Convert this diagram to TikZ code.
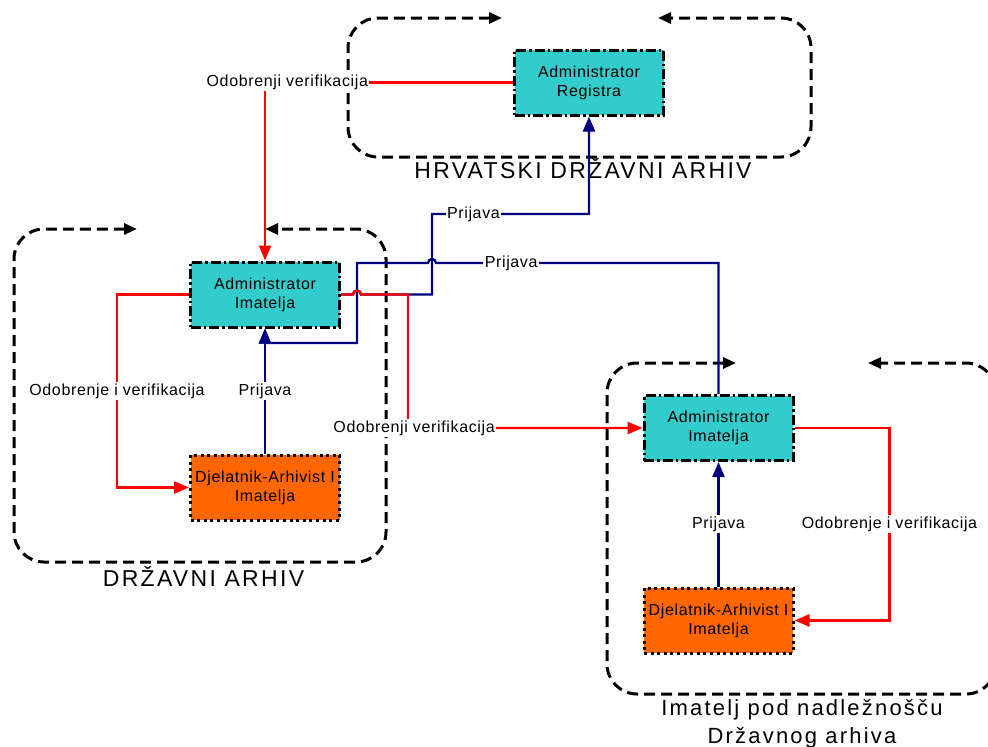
\documentclass[tikz,border=0pt]{standalone}
\usepackage{fontspec}
\setmainfont{Liberation Sans}
\usepackage{xcolor}
\usepackage{tikz}
\usetikzlibrary{arrows.meta}
\pgfdeclarelayer{nodelayer}
\pgfdeclarelayer{edgelayer}
\pgfsetlayers{main,nodelayer,edgelayer}
\definecolor{boxcyan}{HTML}{33CCCC}
\definecolor{boxorange}{HTML}{FF6600}
\definecolor{linkblue}{HTML}{000080}
\newcommand{\boxfont}{\fontsize{16}{19}\selectfont\addfontfeature{LetterSpace=4}}
\newcommand{\titlefont}{\fontsize{22}{28}\selectfont\addfontfeature{LetterSpace=10}}
\newcommand{\capsfont}{\fontsize{23}{28}\selectfont\addfontfeature{LetterSpace=10}}
\tikzset{
    none/.style = {inner sep=0pt},
    admin/.style = {draw=black, fill=boxcyan, line width=3pt, dash pattern=on 10pt off 3pt on 2.5pt off 3pt, minimum width=149pt, minimum height=65pt, align=center, font=\boxfont},
    worker/.style = {draw=black, fill=boxorange, line width=3pt, dash pattern=on 3pt off 3.6pt, minimum width=149pt, minimum height=65pt, align=center, font=\boxfont},
    tag/.style = {fill=white, inner sep=1.5pt, font=\boxfont},
    title/.style = {inner sep=0pt, align=center, font=\titlefont},
    frame/.style = {draw=black, line width=3pt, dash pattern=on 11pt off 6pt, rounded corners=30pt, arrows={Triangle[length=13pt,width=11pt]-Triangle[length=13pt,width=11pt]}},
    red arrow/.style = {draw=red, line width=2.4pt, arrows={-Triangle[length=15pt,width=12pt]}},
    blue arrow/.style = {draw=linkblue, line width=2.4pt, arrows={-Triangle[length=15pt,width=12pt]}}
}

\begin{document}
\begin{tikzpicture}[x=1pt, y=-1pt]
  \path [use as bounding box, fill=white] (0,0) rectangle (988,747);
  % frames of the three institutions
  \draw [style=frame] (502,18) -- (348,18) -- (348,157) -- (811,157) -- (811,18) -- (658,18);
  \draw [style=frame] (137,229) -- (14,229) -- (14,562) -- (386,562) -- (386,229) -- (265,229);
  \draw [style=frame] (736,363) -- (607,363) -- (607,694) -- (996,694) -- (996,363) -- (868,363);
  \begin{pgfonlayer}{nodelayer}
    \node [style=admin] (0) at (589, 82.5) {Administrator\\Registra};
    \node [style=admin] (1) at (265, 294.5) {Administrator\\Imatelja};
    \node [style=worker] (2) at (265, 487.5) {Djelatnik-Arhivist I\\Imatelja};
    \node [style=admin] (3) at (718.5, 428) {Administrator\\Imatelja};
    \node [style=worker] (4) at (718.5, 620.5) {Djelatnik-Arhivist I\\Imatelja};
    \node [style=title, font=\capsfont, anchor=base] (5) at (583, 178) {HRVATSKI DRŽAVNI ARHIV};
    \node [style=title, font=\capsfont, anchor=base] (6) at (203.5, 586) {DRŽAVNI ARHIV};
    \node [style=title, anchor=north] (7) at (802, 699) {Imatelj pod nadležnošču\\Državnog arhiva};
  \end{pgfonlayer}
  \begin{pgfonlayer}{edgelayer}
    \draw [style=red arrow] (0.west) -| node [style=tag, pos=0.455] {Odobrenji verifikacija} (1.north);
    \draw [style=red arrow] (1.west) -- ++(-72,0) |- node [style=tag, pos=0.25] {Odobrenje i verifikacija} (2.west);
    \draw [style=blue arrow] (2.north) to node [style=tag] {Prijava} (1.south);
    \draw [style=blue arrow] (3.north) -- (3.north |- 0,263) -- node [style=tag, pos=0.734] {Prijava} (436,263) arc (0:-180:4) -- (357,263) -- (357,343) -- (1.south |- 0,343) -- (1.south);
    \draw [style=blue arrow] (1.east) -- (353,294.5) arc (180:360:4) -- (432,294.5) -- (432,214) -- node [style=tag, pos=0.264] {Prijava} (0.south |- 0,214) -- (0.south);
    \draw [style=red arrow] (1.east) -- (353,294.5) arc (180:360:4) -- (408,294.5) |- node [style=tag, pos=0.513] {Odobrenji verifikacija} (3.west);
    \draw [style=blue arrow] (4.north) to node [style=tag] {Prijava} (3.south);
    \draw [style=red arrow] (3.east) -- ++(95,0) |- node [style=tag, pos=0.25] {Odobrenje i verifikacija} (4.east);
  \end{pgfonlayer}
\end{tikzpicture}
\end{document}
